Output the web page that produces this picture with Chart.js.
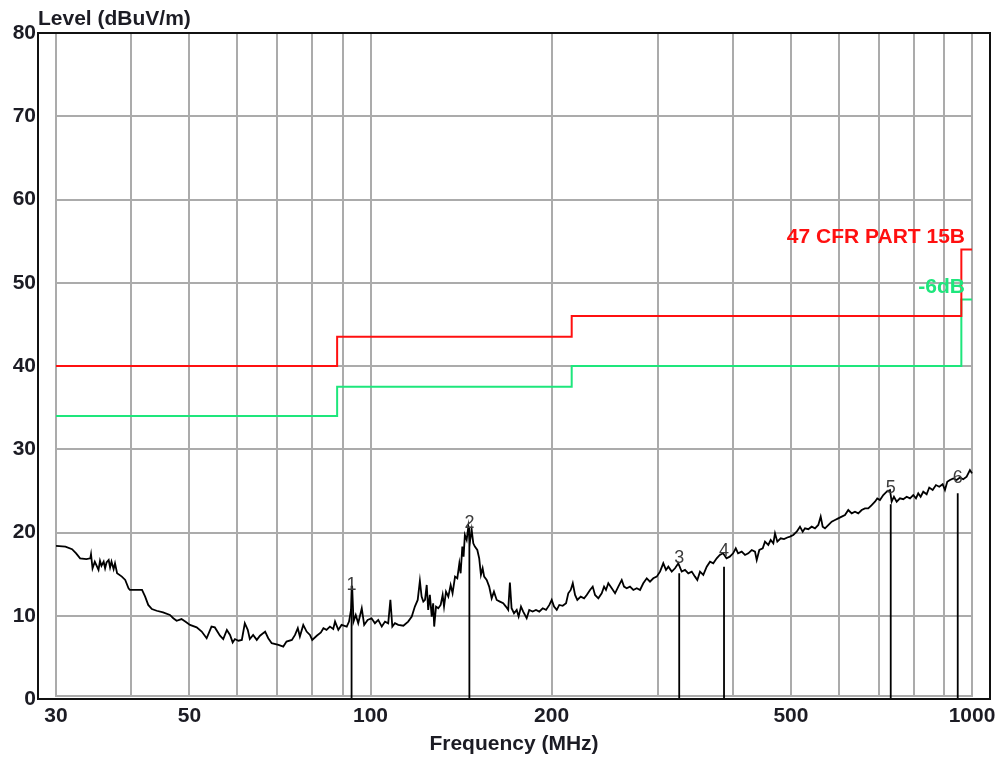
<!DOCTYPE html>
<html>
<head>
<meta charset="utf-8">
<script src="https://cdn.jsdelivr.net/npm/chart.js@4.4.1/dist/chart.umd.min.js"></script>
<style>
html,body{margin:0;padding:0;background:#ffffff;}
canvas{display:block;}
</style>
</head>
<body>
<canvas id="c" width="1001" height="758"></canvas>
<script>
// ---------------- data ----------------
const freqMHz = [
30.0,31.1,31.9,32.4,32.9,33.7,34.2,34.3,34.5,34.8,
35.1,35.3,35.5,35.7,36.0,36.2,36.4,36.7,36.9,37.1,
37.4,37.6,37.9,38.6,39.1,39.6,39.8,41.7,42.2,42.7,
43.3,44.1,45.2,46.4,47.0,47.6,48.5,49.2,50.1,51.4,
52.4,53.4,54.4,55.1,56.2,56.9,57.7,58.4,59.0,59.5,
60.3,61.1,61.8,62.5,63.0,63.8,64.7,65.5,66.8,67.6,
68.5,70.3,71.6,72.5,74.0,74.9,75.7,76.3,77.3,78.3,
79.3,80.0,81.4,82.7,83.5,84.5,85.6,86.7,87.3,88.4,
89.5,91.3,92.1,92.8,93.2,93.7,94.5,95.4,96.7,97.6,
98.9,100.4,101.7,103.0,104.4,105.7,107.0,107.9,108.7,109.8,
111.2,113.4,115.5,117.1,118.5,119.8,
120.8,121.6,122.4,123.2,124.0,124.7,125.5,126.4,127.1,127.6,
128.5,129.6,130.8,131.8,132.5,133.5,134.7,135.9,136.9,138.2,
139.4,140.5,141.2,142.1,142.8,143.5,144.5,145.4,146.3,147.3,
148.2,149.1,150.5,151.6,152.6,153.6,154.5,156.0,157.5,159.0,
160.4,162.1,164.1,166.2,167.9,169.4,170.5,171.6,173.2,175.0,
176.3,177.9,179.4,181.8,183.6,186.0,188.4,190.8,193.3,195.8,
198.3,200.1,201.9,204.0,206.0,208.7,211.4,213.2,215.2,216.9,
218.8,220.7,223.6,226.5,228.8,231.7,234.1,236.2,239.2,242.3,
244.5,246.3,248.5,
251.8,255.0,258.2,261.6,263.9,266.6,270.0,273.5,277.1,280.6,
284.1,287.9,291.5,295.2,299.1,302.9,306.7,309.9,312.7,316.8,
320.8,324.9,329.1,333.3,337.5,342.0,346.3,349.4,353.0,357.5,
362.2,366.8,371.4,376.3,380.8,385.6,390.7,395.6,400.7,404.8,
408.4,414.1,419.4,424.7,430.3,435.7,438.6,443.0,448.8,452.7,
458.5,462.7,467.4,470.4,474.6,480.8,486.9,493.1,
498.2,504.5,511.1,517.6,523.0,527.6,534.3,541.3,548.2,555.2,
560.3,564.6,569.6,576.8,584.4,591.8,599.3,607.2,614.9,622.7,
630.9,638.9,647.0,655.5,663.8,672.3,681.1,689.7,695.8,703.0,
712.0,721.3,730.5,735.2,741.7,749.5,759.0,768.6,778.7,788.6,
798.6,806.9,814.0,821.5,829.8,840.6,849.0,860.2,871.1,882.2,
893.7,901.6,909.6,919.0,930.7,942.9,954.9,967.0,979.7,992.1,1000
];
const levelDbuV = [
18.4,18.3,18.0,17.5,16.9,16.8,16.9,17.4,15.7,16.5,
15.9,15.5,16.6,16.0,16.5,15.7,16.4,16.7,15.8,16.5,
15.6,16.3,15.1,14.7,14.3,13.3,13.1,13.1,12.3,11.3,
10.8,10.6,10.4,10.1,9.7,9.4,9.6,9.3,8.9,8.6,
8.1,7.3,8.7,8.6,7.6,7.2,8.3,7.7,6.8,7.2,
7.0,7.1,9.1,8.3,7.2,7.7,7.1,7.6,8.1,7.3,
6.7,6.5,6.3,6.9,7.1,7.7,8.5,7.5,8.9,8.1,
7.7,7.1,7.6,8.0,8.5,8.3,8.7,8.4,9.3,8.3,
8.9,8.7,9.3,10.7,13.6,9.3,10.1,9.1,10.9,8.9,
9.5,9.7,9.1,9.5,8.7,9.3,9.1,11.9,8.7,9.1,
8.9,8.8,9.3,9.9,11.1,11.9,
14.2,12.3,11.7,11.9,13.7,10.7,12.5,9.9,11.5,8.7,
11.1,10.9,11.3,12.5,11.1,12.9,12.3,13.7,12.7,14.7,
14.5,16.3,15.1,18.3,17.1,19.7,19.1,20.7,18.9,20.3,
18.7,18.3,17.9,16.9,14.9,15.7,14.7,14.3,13.5,12.1,
12.9,11.9,11.7,11.5,11.1,10.7,14.0,10.9,10.3,10.7,
9.9,11.1,10.5,9.7,10.7,10.5,10.7,10.5,10.9,10.7,
11.3,11.9,11.1,10.7,11.3,11.2,11.5,12.7,13.1,13.9,
12.5,11.9,12.3,12.1,12.5,13.1,13.5,12.5,12.1,12.7,
13.5,13.1,13.9,
13.3,12.7,13.5,14.3,13.5,13.3,13.5,13.1,13.3,13.1,
13.9,14.5,14.1,14.5,14.7,15.3,16.3,15.5,15.9,15.3,
15.7,16.3,15.3,15.5,15.1,15.3,14.7,14.3,15.3,14.9,
15.9,16.5,16.3,16.9,17.3,17.5,16.9,17.1,17.5,18.1,
17.5,17.7,17.3,17.5,17.9,17.7,16.7,17.9,18.1,18.9,
18.5,19.1,18.7,19.9,18.9,19.3,19.2,19.4,
19.5,19.7,20.1,20.7,20.1,20.5,20.4,20.7,20.5,20.9,
21.9,20.7,20.5,20.9,21.3,21.5,21.7,21.9,22.1,22.7,
22.3,22.5,22.3,22.7,22.9,22.9,23.3,23.7,24.1,23.9,
24.5,24.9,25.1,23.7,24.3,23.7,24.1,24.0,24.3,24.1,
24.5,24.1,24.7,24.3,24.9,24.6,25.4,25.1,25.7,25.5,
25.8,25.1,26.1,26.3,26.5,26.3,26.6,26.4,26.7,27.5,27.1
];

// limit lines (47 CFR Part 15B class B) and the -6 dB margin
const limitFreq   = [30, 88, 88, 216, 216, 960, 960, 1000];
const limitLevel  = [40, 40, 43.5, 43.5, 46, 46, 54, 54];
const marginLevel = [34, 34, 37.5, 37.5, 40, 40, 48, 48];
const limitName  = '47 CFR PART 15B';
const marginName = '-6dB';

// markers
const markerNames      = ['1', '2', '3', '4', '5', '6'];
const markerFreq       = [93.0, 146.0, 326.0, 387.0, 732.6, 946.8];
const markerLevel      = [13.6, 20.7, 15.1, 15.9, 23.4, 24.7];
const markerLabelLevel = [13.7, 21.1, 16.9, 17.8, 25.3, 26.6];

// axes
const gridFreq    = [30, 40, 50, 60, 70, 80, 90, 100, 200, 300, 400, 500, 600, 700, 800, 900, 1000];
const xTickLabels = [30, 50, 100, 200, 500, 1000];
const yTicks      = [0, 10, 20, 30, 40, 50, 60, 70, 80];
const xTitle = 'Frequency (MHz)';
const yTitle = 'Level (dBuV/m)';

// ---------------- drawing ----------------
const FONT = '"Liberation Sans", Arial, sans-serif';
const TEXT = '#1c1c24';
const RED = '#ff1010';
const GREEN = '#1ee67c';

const tracePts  = freqMHz.map((f, i) => ({x: f, y: levelDbuV[i]}));
const limitPts  = limitFreq.map((f, i) => ({x: f, y: limitLevel[i]}));
const marginPts = limitFreq.map((f, i) => ({x: f, y: marginLevel[i]}));
const markerPts = [];
markerFreq.forEach((f, i) => {
  markerPts.push({x: f, y: 0}, {x: f, y: markerLevel[i]}, {x: f, y: null});
});

const emcPlugin = {
  id: 'emc',
  beforeDatasetsDraw(chart) {
    const {ctx, scales: {x, y}} = chart;
    const x0 = Math.round(x.getPixelForValue(gridFreq[0]));
    const x1 = Math.round(x.getPixelForValue(gridFreq[gridFreq.length - 1]));
    const yTop = Math.round(y.getPixelForValue(yTicks[yTicks.length - 1]));
    const yBot = Math.round(y.getPixelForValue(yTicks[0])) - 3;
    ctx.save();
    ctx.strokeStyle = '#ababab';
    ctx.lineWidth = 2;
    ctx.beginPath();
    gridFreq.forEach(f => {
      const px = Math.round(x.getPixelForValue(f));
      ctx.moveTo(px, yTop); ctx.lineTo(px, yBot);
    });
    yTicks.forEach(v => {
      const py = v === yTicks[0] ? yBot : Math.round(y.getPixelForValue(v));
      ctx.moveTo(x0 - 1, py); ctx.lineTo(x1 + 1, py);
    });
    ctx.stroke();
    ctx.restore();
  },
  afterDatasetsDraw(chart) {
    const {ctx, chartArea: a, scales: {x, y}} = chart;
    ctx.save();
    // limit labels
    const lx = x.getPixelForValue(limitFreq[limitFreq.length - 1]) - 7;
    ctx.font = 'bold 21px ' + FONT;
    ctx.textAlign = 'right';
    ctx.textBaseline = 'alphabetic';
    ctx.fillStyle = RED;
    ctx.fillText(limitName, lx, y.getPixelForValue(limitLevel[limitLevel.length - 1]) - 6);
    ctx.fillStyle = GREEN;
    ctx.fillText(marginName, lx, y.getPixelForValue(marginLevel[marginLevel.length - 1]) - 6);
    // marker labels
    ctx.font = '18px ' + FONT;
    ctx.textAlign = 'center';
    ctx.textBaseline = 'middle';
    ctx.fillStyle = '#3c3c3c';
    markerNames.forEach((n, i) => {
      ctx.fillText(n, x.getPixelForValue(markerFreq[i]), y.getPixelForValue(markerLabelLevel[i]));
    });
    // frame
    ctx.strokeStyle = '#111';
    ctx.lineWidth = 2;
    ctx.strokeRect(a.left, a.top, a.right - a.left, a.bottom - a.top);
    // y title
    ctx.font = 'bold 21px ' + FONT;
    ctx.textAlign = 'left';
    ctx.textBaseline = 'alphabetic';
    ctx.fillStyle = TEXT;
    ctx.fillText(yTitle, a.left, a.top - 8);
    ctx.restore();
  }
};

new Chart(document.getElementById('c'), {
  type: 'line',
  data: {
    datasets: [
      {data: markerPts, borderColor: '#000', borderWidth: 1.8, pointRadius: 0, spanGaps: false},
      {data: tracePts, borderColor: '#000', borderWidth: 1.8, pointRadius: 0, tension: 0},
      {data: limitPts, borderColor: RED, borderWidth: 2, pointRadius: 0},
      {data: marginPts, borderColor: GREEN, borderWidth: 2, pointRadius: 0}
    ]
  },
  options: {
    responsive: false,
    animation: false,
    devicePixelRatio: 1,
    layout: {padding: {left: 0, right: 11, top: 33, bottom: 0}},
    plugins: {legend: {display: false}, tooltip: {enabled: false}, title: {display: false}},
    scales: {
      x: {
        type: 'logarithmic',
        min: 28.0,
        max: 1071.3,
        grid: {display: false, drawTicks: false},
        border: {display: false},
        afterBuildTicks: s => { s.ticks = gridFreq.map(v => ({value: v})); },
        afterFit: s => { s.height = 59; },
        ticks: {
          autoSkip: false, maxRotation: 0, minRotation: 0, padding: 5,
          color: TEXT, font: {family: FONT, size: 21, weight: 'bold'},
          callback: v => xTickLabels.includes(v) ? String(v) : ''
        },
        title: {display: true, text: xTitle, color: TEXT, font: {family: FONT, size: 21, weight: 'bold'}, padding: {top: 0, bottom: 1}}
      },
      y: {
        type: 'linear',
        min: 0,
        max: 80,
        grid: {display: false, drawTicks: false},
        border: {display: false},
        afterBuildTicks: s => { s.ticks = yTicks.map(v => ({value: v})); },
        afterFit: s => { s.width = 38; },
        ticks: {padding: 2, color: TEXT, font: {family: FONT, size: 21, weight: 'bold'}}
      }
    }
  },
  plugins: [emcPlugin]
});
</script>
</body>
</html>
